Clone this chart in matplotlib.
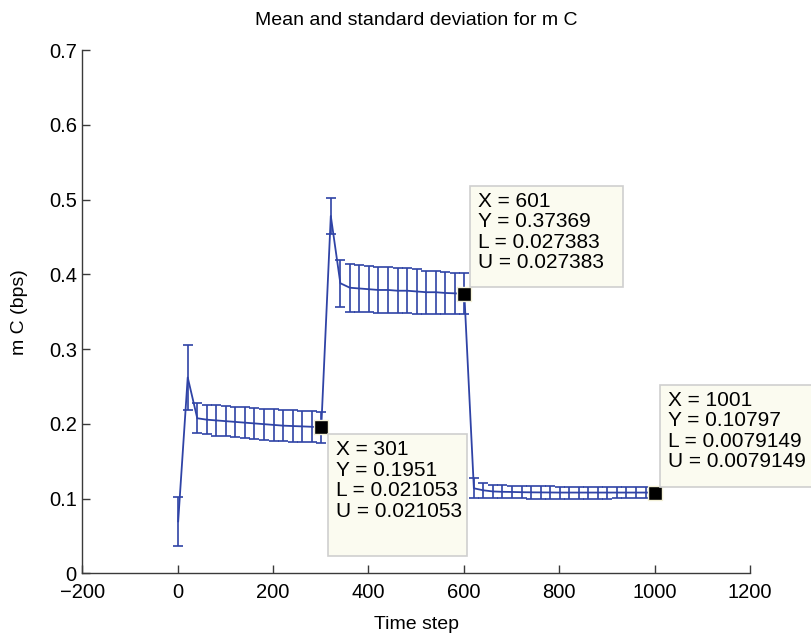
import matplotlib
matplotlib.use("Agg")
import matplotlib.pyplot as plt
from matplotlib.patches import Rectangle
from matplotlib.transforms import IdentityTransform

plt.rcParams['font.family'] = ['Liberation Sans', 'DejaVu Sans']

# Time steps at which the statistic was sampled
time_steps = [1, 21, 41, 61, 81, 101, 121, 141, 161, 181, 201, 221, 241, 261, 281, 301,
              321, 341, 361, 381, 401, 421, 441, 461, 481, 501, 521, 541, 561, 581, 601,
              621, 641, 661, 681, 701, 721, 741, 761, 781, 801, 821, 841, 861, 881, 901,
              921, 941, 961, 981, 1001]

# Mean of m C (bps)
mean_vals = [0.0695, 0.262,
             0.2074, 0.2055, 0.2045, 0.2035, 0.2025, 0.2015, 0.2005, 0.1995, 0.1985,
             0.1975, 0.197, 0.1965, 0.196, 0.1951,
             0.478, 0.388, 0.382, 0.381, 0.380, 0.379, 0.379, 0.378, 0.378, 0.377,
             0.376, 0.376, 0.375, 0.3745, 0.37369,
             0.1137, 0.111, 0.1095, 0.109, 0.1088, 0.1085, 0.1083, 0.1082, 0.1081,
             0.108, 0.108, 0.108, 0.108, 0.108, 0.108, 0.108, 0.108, 0.108, 0.108,
             0.10797]

# Standard deviation of m C
std_vals = [0.033, 0.043,
            0.020, 0.0198, 0.0202, 0.0205, 0.0206, 0.0207, 0.0208, 0.0209, 0.021,
            0.021, 0.021, 0.021, 0.021, 0.021053,
            0.0245, 0.0317, 0.032, 0.031, 0.0307, 0.0306, 0.0305, 0.0303, 0.030,
            0.0295, 0.029, 0.0287, 0.028, 0.0277, 0.027383,
            0.0134, 0.0102, 0.0092, 0.0088, 0.0086, 0.0084, 0.0083, 0.0082, 0.0081,
            0.008, 0.008, 0.008, 0.008, 0.008, 0.008, 0.0079, 0.0079, 0.0079, 0.0079,
            0.0079149]

# Indices of the points carrying a data tip
tip_indices = [15, 30, 50]

x_ticks = [-200, 0, 200, 400, 600, 800, 1000, 1200]
y_ticks = [0, 0.1, 0.2, 0.3, 0.4, 0.5, 0.6, 0.7]

line_color = '#2f43a6'
axis_color = '#3a3a3a'

fig = plt.figure(figsize=(8.11, 6.37), dpi=100)
ax = fig.add_axes([0.1015, 0.1, 0.8233, 0.8215])

ax.errorbar(time_steps, mean_vals, yerr=std_vals, color=line_color, lw=1.3,
            elinewidth=1.2, capsize=3.8, capthick=1.2, zorder=2)

ax.set_xlim(-200, 1200)
ax.set_ylim(0, 0.7)
ax.set_xticks(x_ticks)
ax.set_yticks(y_ticks)
ax.set_xticklabels([str(t).replace('-', '\u2212') for t in x_ticks])
ax.set_yticklabels([f'{t:g}' for t in y_ticks])
for side in ('top', 'right'):
    ax.spines[side].set_visible(False)
for side in ('left', 'bottom'):
    ax.spines[side].set_color(axis_color)
    ax.spines[side].set_linewidth(1.0)
ax.tick_params(direction='in', length=5.5, width=1.0, color=axis_color,
               labelsize=14.5, labelcolor='black')
ax.tick_params(axis='x', pad=7)
ax.tick_params(axis='y', pad=4)

ax.set_xlabel('Time step', fontsize=14, labelpad=10)
ax.set_ylabel('m C (bps)', fontsize=14, labelpad=15)
ax.set_title('Mean and standard deviation for m C', fontsize=14, pad=18)

# Data tips: black square on the point, ivory box with X / Y / L / U
# box geometry in pixels: (dx, dy of lower-left corner from point, width, height)
tip_boxes = [(7, -129, 139, 122), (6, 7, 153, 101), (5, 6, 160, 102)]
for idx, (dx, dy, bw, bh) in zip(tip_indices, tip_boxes):
    xv, yv, sv = time_steps[idx], mean_vals[idx], std_vals[idx]
    ax.plot([xv], [yv], marker='s', ms=9.4, mfc='black', mec='#f4f1d8',
            mew=1.0, zorder=5, clip_on=False)
    px, py = ax.transData.transform((xv, yv))
    fig.add_artist(Rectangle((px + dx, py + dy), bw, bh, transform=IdentityTransform(),
                             facecolor='#fbfbf0', edgecolor='#cfcfcf', lw=1.2, zorder=6))
    label = (f'X = {xv}\nY = {format(yv, ".5g")}\n'
             f'L = {format(sv, ".5g")}\nU = {format(sv, ".5g")}')
    fig.text(px + dx + 8, py + dy + bh - 6, label, transform=IdentityTransform(),
             fontsize=15, va='top', ha='left', linespacing=1.1, zorder=7)

fig.savefig('out.png', dpi=100)
